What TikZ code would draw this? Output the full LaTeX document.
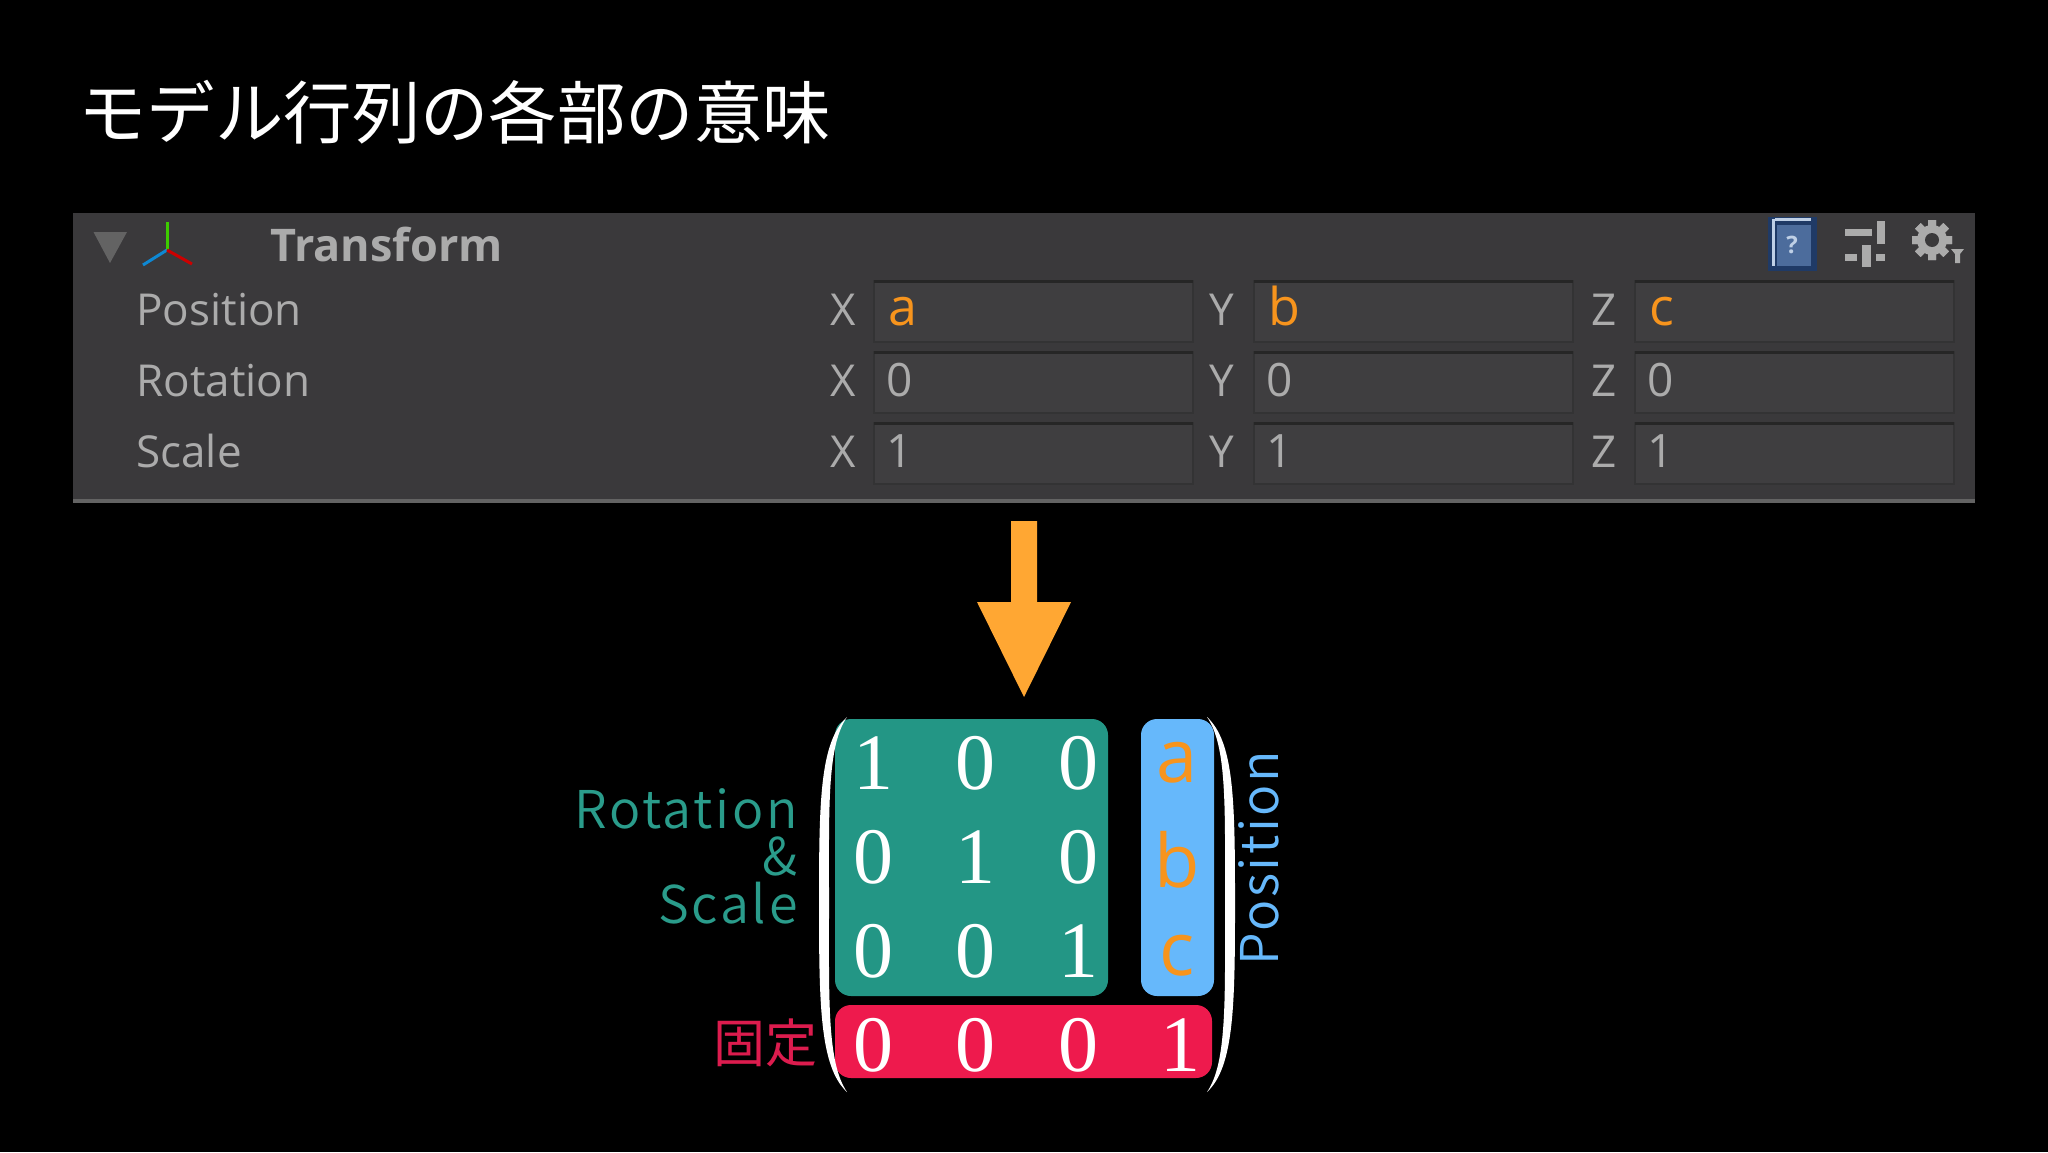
\documentclass[tikz,border=0pt]{standalone}
\usepackage{fontspec}
\setmainfont{Open Sans}
\newfontfamily\jpfont{Noto Sans CJK JP}
\newfontfamily\jplatin[LetterSpace=5]{Noto Sans CJK JP DemiLight}
\newfontfamily\numfont{Liberation Serif}
\usepackage{xcolor}
\usepackage{tikz}
\usetikzlibrary{positioning,calc,arrows.meta}

\definecolor{panelbg}{HTML}{3A393B}
\definecolor{panelline}{HTML}{636363}
\definecolor{fieldbg}{HTML}{3F3E40}
\definecolor{fieldtop}{HTML}{262626}
\definecolor{fieldedge}{HTML}{333334}
\definecolor{uitext}{HTML}{ABABAB}
\definecolor{uiorange}{HTML}{F7941D}
\definecolor{bigarrow}{HTML}{FFA733}
\definecolor{tealbox}{HTML}{239685}
\definecolor{tealtext}{HTML}{2A9C8B}
\definecolor{bluebox}{HTML}{66B8FB}
\definecolor{redbox}{HTML}{EE1A4D}
\definecolor{redtext}{HTML}{DC1C4E}
\definecolor{bookdark}{HTML}{1F3A66}
\definecolor{bookmid}{HTML}{4C6C9C}
\definecolor{booklight}{HTML}{BFD0E6}

\tikzset{
	uilabel/.style={anchor=base west,inner sep=0pt,text=uitext,font=\fontsize{22}{26}\selectfont},
	uivalue/.style={uilabel,xshift=-1pt,font=\fontsize{23}{26}\selectfont},
	uiorangeval/.style={uivalue,xshift=1pt,text=uiorange,font=\fontsize{26}{26}\selectfont},
	matnum/.style={anchor=center,inner sep=0pt,text=white,font=\numfont\fontsize{40}{44}\selectfont},
	posval/.style={anchor=base,inner sep=0pt,text=uiorange,font=\fontsize{37}{40}\selectfont},
	sidelabel/.style={anchor=base east,inner sep=0pt,font=\jplatin\fontsize{26}{30}\selectfont},
	cellbox/.style={rounded corners=8pt},
}

\begin{document}
\begin{tikzpicture}[x=0.5pt,y=-0.5pt]
	\useasboundingbox (0,0) rectangle (2048,1152);
	\fill[black] (0,0) rectangle (2048,1152);
	\def\fieldw{319}
	\def\fieldh{61}

	% title
	\node[anchor=west,inner sep=0pt,text=white,font=\jpfont\fontsize{34.2}{40}\selectfont] (title) at (78,112) {モデル行列の各部の意味};

	% panel
	\fill[panelbg] (73,213) rectangle (1975,503);
	\fill[panelline] (73,499) rectangle (1975,503);
	\fill[panelline] (127,232) -- (93.5,232) -- (110,263) -- cycle;
	\draw[line width=1.5pt,color=green!70!yellow!80!black] (167,250) -- (167,222);
	\draw[line width=1.5pt,color=cyan!70!blue] (167,250) -- (143,265);
	\draw[line width=1.5pt,color=red!80!black] (167,250) -- (192,264);
	\node[uilabel,font=\bfseries\fontsize{22.5}{26}\selectfont] (transform) at (270,261) {Transform};

	% rows and fields
	\foreach \name/\base/\top/\vx/\vy/\vz/\sty in {Position/325/281/a/b/c/uiorangeval,Rotation/396/352/0/0/0/uivalue,Scale/467/423/1/1/1/uivalue}{
		\node[uilabel] (lab\name) at (136,\base) {\name};
		\foreach \axis/\left/\lx/\val in {X/874/830/\vx,Y/1254/1209/\vy,Z/1635/1591/\vz}{
			\fill[fieldbg,draw=fieldedge,line width=1pt] (\left,\top) rectangle ++(\fieldw,\fieldh);
			\draw[fieldtop,line width=1.5pt] (\left,\top) -- ++(\fieldw,0);
			\node[uilabel] (axis\name\axis) at (\lx,\base) {\axis};
			\node[\sty] (val\name\axis) at ($(\left,\base)+(14,0)$) {\val};
		}
	}

	% header icons
	\fill[bookdark] (1768,217) rectangle (1817,271);
	\fill[bookmid] (1777,225) rectangle (1811,266);
	\fill[booklight] (1772,219) rectangle (1775,266);
	\fill[booklight] (1775,218) rectangle (1811,221);
	\node[inner sep=0pt,text=booklight,font=\bfseries\fontsize{12}{12}\selectfont] (helpmark) at (1792,245) {?};
	\fill[uitext] (1845,229) rectangle (1872,236);
	\fill[uitext] (1877,221) rectangle (1885,244);
	\fill[uitext] (1845,254) rectangle (1857,261);
	\fill[uitext] (1862,245) rectangle (1871,267);
	\fill[uitext] (1876,254) rectangle (1885,261);
	% gear
	\foreach \a in {0,45,...,135}{
		\fill[uitext,rotate around={\a:(1932,240)}] (1928,220) rectangle (1936,260) (1912,236) rectangle (1952,244);
	}
	\fill[uitext] (1932,240) circle [radius=7.5pt];
	\fill[panelbg] (1932,240) circle [radius=3.5pt];
	\fill[uitext] (1951,249) -- (1964,249) -- (1960,254) -- (1960,263) -- (1955,263) -- (1955,254) -- cycle;

	% arrow
	\fill[bigarrow] (1011,521) -- (1037,521) -- (1037,602) -- (1071,602) -- (1024,697) -- (977,602) -- (1011,602) -- cycle;

	% coloured blocks
	\node[cellbox,fill=tealbox,inner sep=0pt,minimum width=136.5pt,minimum height=138.5pt] (rotbox) at (971.5,857.5) {};
	\node[cellbox,fill=bluebox,inner sep=0pt,minimum width=36.5pt,minimum height=138.5pt] (posbox) at (1177.5,857.5) {};
	\node[cellbox,fill=redbox,inner sep=0pt,minimum width=188.5pt,minimum height=36.5pt] (fixbox) at (1023.5,1041.5) {};

	% brackets
	\foreach \s/\c in {1/0,-1/2054}{
		\begin{scope}[shift={(\c,0)},xscale=\s]
			\fill[white] (847,717) .. controls (820,742) and (819,800) .. (819,903) .. controls (819,1006) and (820,1067) .. (847,1092)
				.. controls (827,1063) and (829,1000) .. (829,903) .. controls (829,806) and (827,746) .. (847,717) -- cycle;
		\end{scope}
	}

	% numbers
	\foreach \r/\y/\ca/\cb/\cc in {1/763/1/0/0,2/857/0/1/0,3/951/0/0/1}{
		\node[matnum] (m\r a) at (873,\y) {\ca};
		\node[matnum] (m\r b) at (975,\y) {\cb};
		\node[matnum] (m\r c) at (1078,\y) {\cc};
	}
	\foreach \c/\x/\val in {a/873/0,b/975/0,c/1078/0,d/1180/1}{
		\node[matnum] (m4\c) at (\x,1045) {\val};
	}
	\node[posval] (posa) at (1177,782) {a};
	\node[posval] (posb) at (1177,887) {b};
	\node[posval] (posc) at (1177,975) {c};

	% side labels
	\node[sidelabel,text=tealtext] (labrot) at (798,828) {Rotation};
	\node[sidelabel,text=tealtext] (labamp) at (798,875) {\&};
	\node[sidelabel,text=tealtext] (labscale) at (798,923) {Scale};
	\node[anchor=center,inner sep=0pt,text=redtext,font=\jpfont\fontsize{26}{30}\selectfont] (labfix) at (765,1043) {固定};
	\node[anchor=base west,rotate=90,inner sep=0pt,text=bluebox,font=\jplatin\fontsize{26}{30}\selectfont] (labpos) at (1278,966) {Position};
\end{tikzpicture}
\end{document}
